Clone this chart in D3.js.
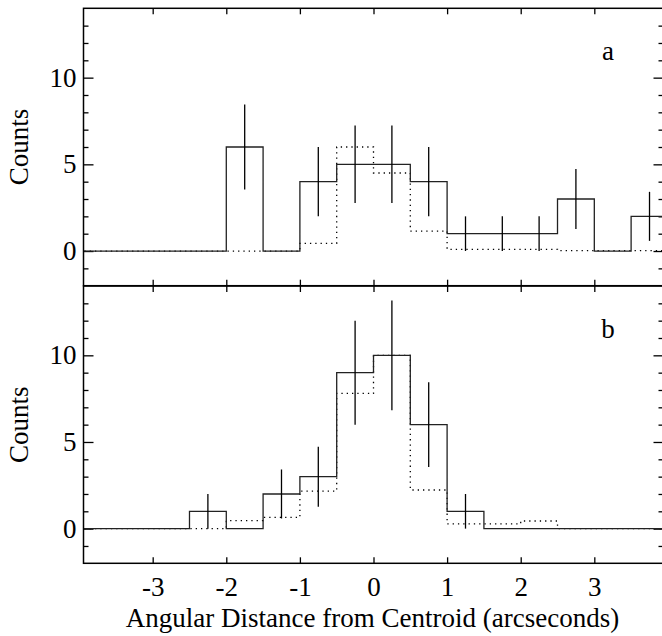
<!DOCTYPE html>
<html>
<head>
<meta charset="utf-8">
<script src="https://cdn.jsdelivr.net/npm/d3@7"></script>
<style>
  body { margin: 0; background: #fff; }
</style>
</head>
<body>
<div id="chart"></div>
<script>
// bin left edges (arcsec), bins are 0.5" wide
var binLefts = [-4, -3.5, -3, -2.5, -2, -1.5, -1, -0.5, 0, 0.5, 1, 1.5, 2, 2.5, 3, 3.5];
var binWidth = 0.5;

// panel a: observed counts and model (dotted)
var countsA = [0, 0, 0, 0, 6, 0, 4, 5, 5, 4, 1, 1, 1, 3, 0, 2];
var modelA  = [0, 0, 0, 0, 0, 0, 0.44, 6.0, 4.5, 1.15, 0.1, 0.1, 0.1, 0.02, 0.02, 0.02];

// panel b
var countsB = [0, 0, 0, 1, 0, 2, 3, 9, 10, 6, 1, 0, 0, 0, 0, 0];
var modelB  = [0, 0, 0, 0, 0.46, 0.65, 2.17, 7.8, 10, 2.23, 0.27, 0.27, 0.44, 0, 0, 0];

var xTicks = [-3, -2, -1, 0, 1, 2, 3];
var yMajor = [0, 5, 10];
var yMinor = [-1, 1, 2, 3, 4, 6, 7, 8, 9, 11, 12, 13];
var panelLabels = ["a", "b"];

var width = 662, height = 636;
var serif = "'Liberation Serif', 'Times New Roman', Times, serif";
var fs = 27;

var svg = d3.select("#chart")
    .append("svg")
    .attr("width", width)
    .attr("height", height)
    .attr("font-family", serif);

// shared x scale
var x = d3.scaleLinear()
    .domain([-3.94, 3.94])
    .range([83.5, 663.5]);

var panels = [
    { counts: countsA, model: modelA, top: 8.3, bottom: 285.7, label: panelLabels[0] },
    { counts: countsB, model: modelB, top: 286, bottom: 563.3, label: panelLabels[1] }
];

svg.append("defs").append("clipPath")
    .attr("id", "plotclip")
    .append("rect")
    .attr("x", x.range()[0])
    .attr("y", 0)
    .attr("width", x.range()[1] - x.range()[0])
    .attr("height", height);

function stepPoints(values) {
    var pts = binLefts.map(function(b, i) { return [b, values[i]]; });
    pts.push([binLefts[binLefts.length - 1] + binWidth, values[values.length - 1]]);
    return pts;
}

function styleTicks(a) {
    a.select(".domain").remove();
    a.attr("font-family", serif).attr("font-size", fs);
    a.selectAll("line").attr("stroke", "#000").attr("stroke-width", 1.3);
}

panels.forEach(function(p, k) {
    var y = d3.scaleLinear()
        .domain([-2, 14])
        .range([p.bottom, p.top]);

    var g = svg.append("g");

    // left axis: major ticks with labels
    g.append("g")
        .attr("transform", "translate(" + x.range()[0] + ",0)")
        .call(d3.axisLeft(y).tickValues(yMajor).tickSize(-10).tickPadding(7).tickFormat(d3.format("d")))
        .call(styleTicks);
    // left minor ticks
    g.append("g")
        .attr("transform", "translate(" + x.range()[0] + ",0)")
        .call(d3.axisLeft(y).tickValues(yMinor).tickSize(-5).tickFormat(""))
        .call(styleTicks);

    // right ticks
    g.append("g")
        .attr("transform", "translate(" + x.range()[1] + ",0)")
        .call(d3.axisRight(y).tickValues(yMajor).tickSize(-10).tickFormat(""))
        .call(styleTicks);
    g.append("g")
        .attr("transform", "translate(" + x.range()[1] + ",0)")
        .call(d3.axisRight(y).tickValues(yMinor).tickSize(-5).tickFormat(""))
        .call(styleTicks);

    // top and bottom x ticks
    g.append("g")
        .attr("transform", "translate(0," + p.top + ")")
        .call(d3.axisTop(x).tickValues(xTicks).tickSize(-6).tickFormat(""))
        .call(styleTicks);
    g.append("g")
        .attr("transform", "translate(0," + p.bottom + ")")
        .call(d3.axisBottom(x).tickValues(xTicks).tickSize(-6).tickPadding(14)
            .tickFormat(function(d) { return k === 1 ? String(d) : ""; }))
        .call(styleTicks);

    var plot = g.append("g").attr("clip-path", "url(#plotclip)");

    var line = d3.line()
        .x(function(d) { return x(d[0]); })
        .y(function(d) { return y(d[1]); })
        .curve(d3.curveStepAfter);

    // model histogram (dotted)
    plot.append("path")
        .datum(stepPoints(p.model))
        .attr("d", line)
        .attr("fill", "none")
        .attr("stroke", "#000")
        .attr("stroke-width", 1.3)
        .attr("stroke-dasharray", "1.3,4");

    // observed histogram
    plot.append("path")
        .datum(stepPoints(p.counts))
        .attr("d", line)
        .attr("fill", "none")
        .attr("stroke", "#222")
        .attr("stroke-width", 1.3);

    // sqrt(N) error bars at bin centres
    plot.selectAll(".err")
        .data(binLefts.map(function(b, i) { return { c: b + binWidth / 2, n: p.counts[i] }; })
            .filter(function(d) { return d.n > 0; }))
        .enter()
        .append("line")
        .attr("class", "err")
        .attr("x1", function(d) { return x(d.c); })
        .attr("x2", function(d) { return x(d.c); })
        .attr("y1", function(d) { return y(d.n - Math.sqrt(d.n)); })
        .attr("y2", function(d) { return y(d.n + Math.sqrt(d.n)); })
        .attr("stroke", "#000")
        .attr("stroke-width", 1.3);

    // frame
    g.append("rect")
        .attr("x", x.range()[0])
        .attr("y", p.top)
        .attr("width", x.range()[1] - x.range()[0])
        .attr("height", p.bottom - p.top)
        .attr("fill", "none")
        .attr("stroke", "#000")
        .attr("stroke-width", 1.5);

    // y label
    g.append("text")
        .attr("transform", "translate(28," + ((p.top + p.bottom) / 2) + ") rotate(-90)")
        .attr("text-anchor", "middle")
        .attr("font-size", fs)
        .text("Counts");

    // panel letter
    g.append("text")
        .attr("x", 608)
        .attr("y", p.top + 51.5)
        .attr("text-anchor", "middle")
        .attr("font-size", fs)
        .text(p.label);
});

svg.append("text")
    .attr("x", 372.5)
    .attr("y", 627)
    .attr("text-anchor", "middle")
    .attr("font-size", fs)
    .text("Angular Distance from Centroid (arcseconds)");
</script>
</body>
</html>
